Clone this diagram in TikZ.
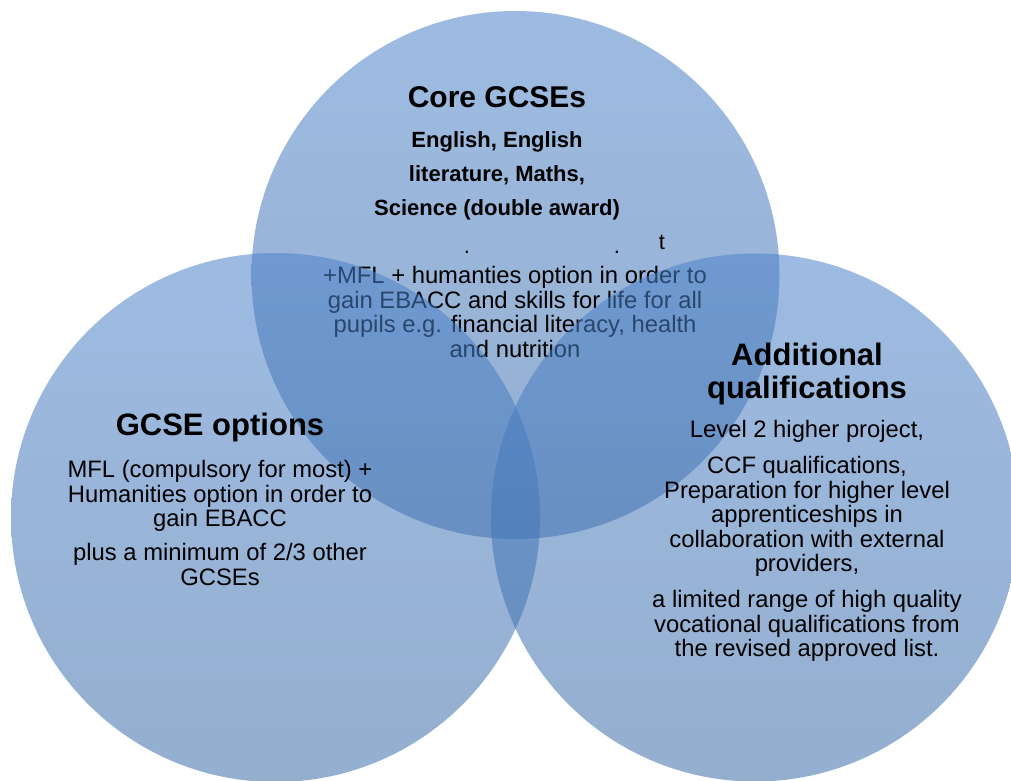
\documentclass[tikz,border=0pt]{standalone}
\usepackage{fontspec}
\setmainfont{Liberation Sans}
\definecolor{cTop}{RGB}{77,131,202}
\definecolor{cBot}{RGB}{60,108,166}
\tikzset{
  venn/.style={top color=cTop, bottom color=cBot, fill opacity=0.55},
  title/.style={font=\bfseries\fontsize{31}{33}\selectfont, align=center, inner sep=0pt, anchor=base},
  coretxt/.style={font=\bfseries\fontsize{22}{34}\selectfont, align=center, inner sep=0pt, anchor=north},
  body/.style={font=\fontsize{23.8}{24.6}\selectfont, align=center, inner sep=0pt, anchor=north},
  stray/.style={font=\fontsize{22}{24}\selectfont, inner sep=0pt, anchor=base},
}
\begin{document}
\begin{tikzpicture}[x=1pt,y=-1pt]
\useasboundingbox (0,0) rectangle (1011,780);
% top circle and its text (drawn first so the other circles tint it)
\shade[venn] (515.5,275) circle [radius=264pt];
\node[title, font=\bfseries\fontsize{30}{33}\selectfont] (core) at (497,107) {Core GCSEs};
\node[coretxt] (corelist) at (497,131) {English, English\\literature, Maths,\\Science (double award)};
\node[stray] (dotA) at (467,253) {.};
\node[stray] (dotB) at (617,253) {.};
\node[stray] (tchar) at (662,249) {t};
\node[body] (corebody) at (515,266) {+MFL + humanties option in order to\\gain EBACC and skills for life for all\\pupils e.g. financial literacy, health\\and nutrition};
% left and right circles
\shade[venn] (275.5,517.5) circle [radius=264.5pt];
\shade[venn] (755,517.5) circle [radius=264pt];
% left circle text
\node[title] (opt) at (220,435) {GCSE options};
\node[body] (optA) at (220,460) {MFL (compulsory for most) +\\Humanities option in order to\\gain EBACC};
\node[body] (optB) at (220,543) {plus a minimum of 2/3 other\\GCSEs};
% right circle text
\node[title] (add) at (807,398) {Additional\\qualifications};
\node[body] (addA) at (807,420) {Level 2 higher project,};
\node[body] (addB) at (807,456) {CCF qualifications,\\Preparation for higher level\\apprenticeships in\\collaboration with external\\providers,};
\node[body] (addC) at (807,590) {a limited range of high quality\\vocational qualifications from\\the revised approved list.};
\end{tikzpicture}
\end{document}
